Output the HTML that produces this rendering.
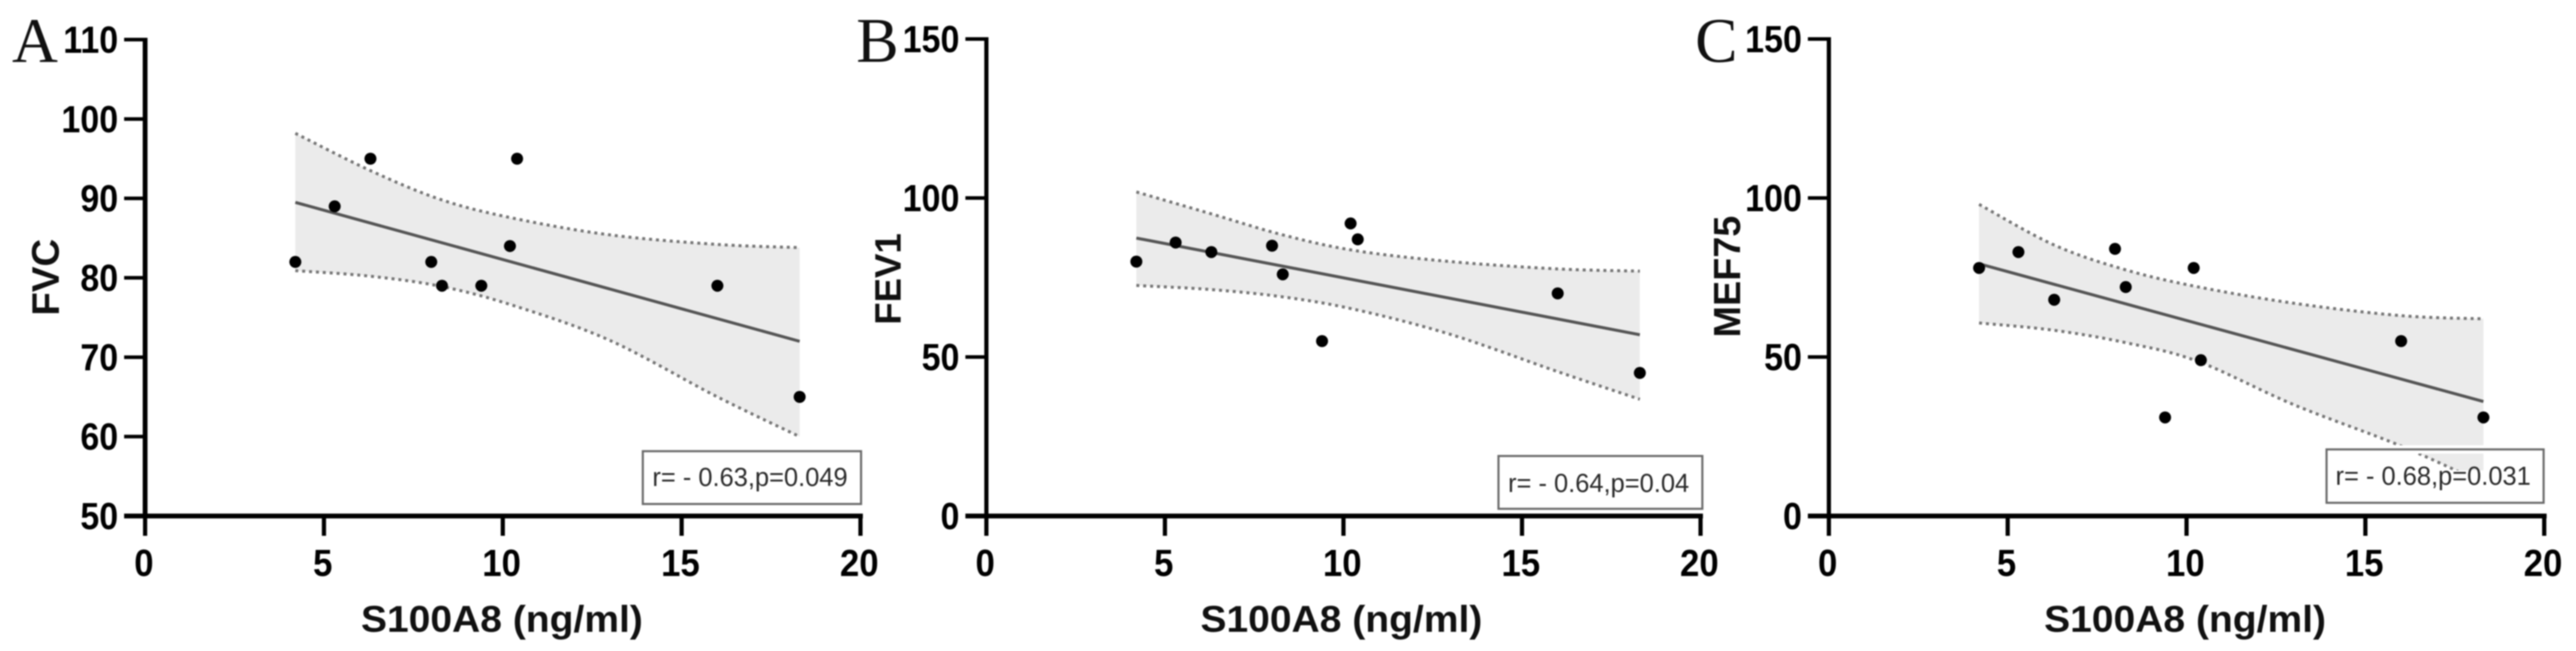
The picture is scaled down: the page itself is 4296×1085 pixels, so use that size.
<!DOCTYPE html>
<html lang="en">
<head>
<meta charset="utf-8">
<title>S100A8 correlation with lung function</title>
<style>
html,body{margin:0;padding:0;background:#fff;}
body{width:4296px;height:1085px;overflow:hidden;}
svg{display:block;filter:blur(1px);}
text{font-family:"Liberation Sans",sans-serif;}
.tick{font-weight:700;font-size:63px;fill:#000;}
.title{font-weight:700;font-size:62px;fill:#111;}
.letter{font-family:"Liberation Serif",serif;font-size:106px;fill:#111;}
.stat{font-size:44px;fill:#2a2a2a;}
</style>
</head>
<body>
<svg id="fig" xmlns="http://www.w3.org/2000/svg" width="4296" height="1085" viewBox="0 0 4296 1085">
  <rect width="4296" height="1085" fill="#fff"/>
  <g id="panel-a"></g>
  <g id="panel-b"></g>
  <g id="panel-c"></g>
  <text class="letter" x="20" y="103">A</text>
  <text class="letter" x="1428" y="103">B</text>
  <text class="letter" x="2827" y="103">C</text>
  <text class="title" transform="translate(837,1053) scale(1.05,1)" text-anchor="middle">S100A8 (ng/ml)</text>
  <text class="title" transform="translate(2237,1053) scale(1.05,1)" text-anchor="middle">S100A8 (ng/ml)</text>
  <text class="title" transform="translate(3644,1053) scale(1.05,1)" text-anchor="middle">S100A8 (ng/ml)</text>
  <text class="title" style="font-size:64px" transform="translate(98,462) rotate(-90)" text-anchor="middle">FVC</text>
  <text class="title" style="font-size:61px" transform="translate(1502,465) rotate(-90)" text-anchor="middle">FEV1</text>
  <text class="title" style="font-size:63px" transform="translate(2902,461) rotate(-90)" text-anchor="middle">MEF75</text>
</svg>
<script>
// Shared x data
const sampleX = [4.2, 5.3, 6.3, 8.0, 8.3, 9.4, 10.2, 10.4, 16.0, 18.3];
const xTicks = [0, 5, 10, 15, 20];
const bandX = [4.2, 6.3, 8.3, 10.3, 13, 16, 18.3];
const fitX = [4.2, 18.3];

// Panel A: FVC
const fvcValues = [82, 89, 95, 82, 79, 79, 84, 95, 79, 65];
const fvcTicks = [50, 60, 70, 80, 90, 100, 110];
const fvcFit = [89.5, 72];
const fvcUpper = [98.2, 93.5, 89.8, 87.5, 85.4, 84.2, 83.8];
const fvcLower = [80.9, 80.2, 78.9, 76.5, 72.1, 65.0, 60.0];

// Panel B: FEV1
const fev1Values = [80, 86, 83, 85, 76, 55, 92, 87, 70, 45];
const fev1Ticks = [0, 50, 100, 150];
const fev1Fit = [87.4, 57];
const fev1Upper = [101.9, 95, 88.4, 83.5, 80, 77.7, 77];
const fev1Lower = [72.5, 71.2, 68.9, 65, 57.1, 45.4, 36.7];

// Panel C: MEF75
const mef75Values = [78, 83, 68, 84, 72, 31, 78, 49, 55, 31];
const mef75Ticks = [0, 50, 100, 150];
const mef75Fit = [79.3, 36];
const mef75Upper = [98, 85.2, 77.4, 72.1, 66.9, 63, 62];
const mef75Lower = [60.7, 58.4, 54.5, 48.7, 35, 22, 10.3];

const NS = 'http://www.w3.org/2000/svg';
function make(parent, tag, attrs) {
  const el = document.createElementNS(NS, tag);
  for (const k in attrs) el.setAttribute(k, attrs[k]);
  parent.appendChild(el);
  return el;
}

// Smooth curve segments through the read points
function curveSegments(pts) {
  let d = '';
  for (let i = 0; i < pts.length - 1; i++) {
    const p0 = pts[Math.max(i - 1, 0)];
    const p1 = pts[i];
    const p2 = pts[i + 1];
    const p3 = pts[Math.min(i + 2, pts.length - 1)];
    const c1x = p1[0] + (p2[0] - p0[0]) / 6;
    const c1y = p1[1] + (p2[1] - p0[1]) / 6;
    const c2x = p2[0] - (p3[0] - p1[0]) / 6;
    const c2y = p2[1] - (p3[1] - p1[1]) / 6;
    d += ' C' + c1x.toFixed(1) + ' ' + c1y.toFixed(1) + ' ' + c2x.toFixed(1) + ' ' + c2y.toFixed(1) + ' ' + p2[0].toFixed(1) + ' ' + p2[1].toFixed(1);
  }
  return d;
}

function drawPanel(cfg) {
  const g = document.getElementById(cfg.id);
  const yMin = cfg.yTicks[0];
  const yMax = cfg.yTicks[cfg.yTicks.length - 1];
  const xScale = v => cfg.x0 + v * (cfg.x20 - cfg.x0) / 20;
  const yScale = v => cfg.yBottom + (v - yMin) * (cfg.yTop - cfg.yBottom) / (yMax - yMin);

  const upperPts = bandX.map((x, i) => [xScale(x), yScale(cfg.upper[i])]);
  const lowerPts = bandX.map((x, i) => [xScale(x), yScale(cfg.lower[i])]);
  const start = p => 'M' + p[0].toFixed(1) + ' ' + p[1].toFixed(1);
  const lowerRev = lowerPts.slice().reverse();

  const bandPath = start(upperPts[0]) + curveSegments(upperPts) + ' L' + lowerRev[0][0].toFixed(1) + ' ' + lowerRev[0][1].toFixed(1) + curveSegments(lowerRev) + ' Z';
  const band = make(g, 'path', {d: bandPath, fill: '#ebebeb'});
  
  

  const upper = make(g, 'path', {d: start(upperPts[0]) + curveSegments(upperPts), fill: 'none', stroke: '#777', 'stroke-width': 5, 'stroke-dasharray': '5 6.5'});
  
  

  const lower = make(g, 'path', {d: start(lowerPts[0]) + curveSegments(lowerPts), fill: 'none', stroke: '#777', 'stroke-width': 5, 'stroke-dasharray': '5 6.5'});
  
  

  const fit = make(g, 'line', {x1: xScale(fitX[0]), y1: yScale(cfg.fit[0]), x2: xScale(fitX[1]), y2: yScale(cfg.fit[1]), stroke: '#555', 'stroke-width': 5});
  
  

  sampleX.forEach((x, i) => {
    const dot = make(g, 'circle', {cx: xScale(x), cy: yScale(cfg.values[i]), r: 10, fill: '#000'});
    
    
  });

  // Axes
  const yAxis = make(g, 'line', {x1: cfg.x0, y1: cfg.yTop - 3, x2: cfg.x0, y2: cfg.yBottom + 4, stroke: '#000', 'stroke-width': cfg.yAxisWidth});
  
  

  const xAxis = make(g, 'line', {x1: cfg.x0 - 35, y1: cfg.yBottom, x2: cfg.x20 + 4, y2: cfg.yBottom, stroke: '#000', 'stroke-width': 8});
  
  

  cfg.yTicks.forEach(v => {
    const y = yScale(v);
    const tick = make(g, 'line', {x1: cfg.x0 - 35, y1: y, x2: cfg.x0, y2: y, stroke: '#000', 'stroke-width': 6});
    
    
    const label = make(g, 'text', {class: 'tick', 'text-anchor': 'end', transform: 'translate(' + (cfg.x0 - 45) + ',' + (y + 22) + ') scale(.9,1)'});
    label.textContent = v;
    
    
  });

  xTicks.forEach(v => {
    const x = xScale(v);
    const tick = make(g, 'line', {x1: x, y1: cfg.yBottom, x2: x, y2: 893, stroke: '#000', 'stroke-width': 7});
    
    
    const label = make(g, 'text', {class: 'tick', 'text-anchor': 'middle', transform: 'translate(' + (x - 2) + ',960) scale(.92,1)'});
    label.textContent = v;
    
    
  });

  // Statistics box: white halo, white text backing, grey border
  const b = cfg.box;
  const halo = make(g, 'rect', {x: b[0], y: b[1], width: b[2], height: b[3], fill: 'none', stroke: '#fff', 'stroke-width': 14});
  
  
  const backing = make(g, 'rect', {x: b[0], y: cfg.backingTop, width: b[2], height: b[1] + b[3] - cfg.backingTop, fill: '#fff'});
  
  
  const box = make(g, 'rect', {x: b[0], y: b[1], width: b[2], height: b[3], fill: 'none', stroke: '#6a6a6a', 'stroke-width': 3.5});
  
  
  const stat = make(g, 'text', {class: 'stat', transform: 'translate(' + cfg.statX + ',' + cfg.statY + ') scale(.965,1)'});
  stat.textContent = cfg.stat;
  
  
}

drawPanel({id: 'panel-a', x0: 242, x20: 1435, yTop: 66, yBottom: 860, yAxisWidth: 8, yTicks: fvcTicks,
  values: fvcValues, fit: fvcFit, upper: fvcUpper, lower: fvcLower,
  box: [1072, 752, 364, 88], backingTop: 752, stat: 'r= - 0.63,p=0.049', statX: 1088, statY: 810});
drawPanel({id: 'panel-b', x0: 1645, x20: 2836, yTop: 65, yBottom: 860, yAxisWidth: 7, yTicks: fev1Ticks,
  values: fev1Values, fit: fev1Fit, upper: fev1Upper, lower: fev1Lower,
  box: [2499, 760, 340, 88], backingTop: 760, stat: 'r= - 0.64,p=0.04', statX: 2515, statY: 820});
drawPanel({id: 'panel-c', x0: 3050, x20: 4243, yTop: 65, yBottom: 860, yAxisWidth: 7, yTicks: mef75Ticks,
  values: mef75Values, fit: mef75Fit, upper: mef75Upper, lower: mef75Lower,
  box: [3880, 749, 362, 89], backingTop: 784, stat: 'r= - 0.68,p=0.031', statX: 3895, statY: 808});
</script>
</body>
</html>
